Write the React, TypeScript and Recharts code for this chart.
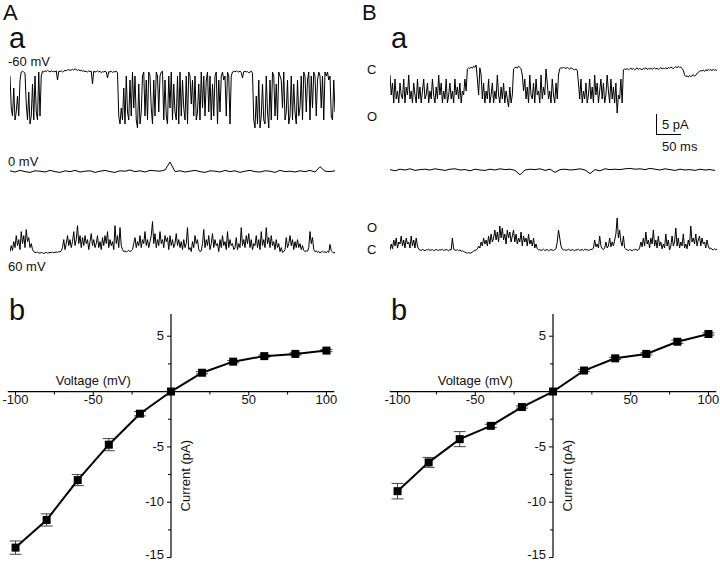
import React from 'react'
import {
  LineChart, ComposedChart, Line, XAxis, YAxis, ErrorBar,
  ReferenceLine, ReferenceDot,
} from 'recharts'

// single-channel traces, pA relative to closed level
const traceAneg60 = [
  -1, -9, -11, -4, -12, -10, -6, -11, -2, 0,
  0.2, 0, -0.3, -8, -12, -5, -13, -11, -3, -12,
  -1, -10, -12, 0, -11, -1, 0.2, 0, 0.3, 0.1,
  0.4, 0.2, 0, 0.3, 0.1, 0.2, 0, 0.3, -2, 0.2,
  0.1, 0.3, 0, 0.2, 0.4, 0.3, 0.5, 0.6, 0.4, 0.5,
  0.7, 0.5, 0.8, 0.6, 0.4, 0.6, 0.3, 0.4, 0.2, 0.3,
  0.1, 0.2, 0, 0.3, 0.1, 0.2, -3, 0.2, 0, 0.1,
  0.3, 0, 0.2, -0.2, 0.1, 0, 0.2, 0, -1.5, 0.1,
  0, 0.2, -0.1, 0.1, 0, 0.2, -0.2, -11, -13, -9,
  -12, -4, -13, -1, -10, -12, -2, -11, 0, -9,
  -1, -12, -14, -3, -13, -10, -1, 0, -11, -2,
  -12, 0, -1, -9, -13, -2, -11, 0, -1, -10,
  -1, 0, 0.2, -12, -2, -11, -13, -1, -9, 0,
  -12, -3, -10, -12, -1, -13, 0, -11, -2, -9,
  -12, -1, -13, 0, -1, -8, -2, -11, -1, -12,
  -10, -3, -12, 0, -9, -1, -11, -2, 0, -10,
  -1, -12, -3, -11, -1, 0, -13, -2, -10, -1,
  0, -2, -1, -11, 0, -1, -13, -1, 0, 0.2,
  0, 0.3, 0.1, 0, 0.2, -0.1, -1.5, 0.1, 0.2, 0,
  0.1, -0.2, 0, 0.2, -0.3, -12, -14, -6, -13, -2,
  -14, -11, -3, -12, -13, -1, -10, -14, -2, -12,
  0, -1, -11, -3, -12, 0, -1, -2, -9, 0,
  -12, -10, -2, -13, -11, -1, -12, -3, -10, -13,
  -2, -11, -9, -1, -12, 0, -1, -10, -2, 0,
  -12, -1, -9, 0, -1, -11, -2, 0, -1, -9,
  -1, -12, 0, -1, 0, -2, -1, -11, -12, -2,
  -10,
]
const traceA0 = [
  0.2, -0.1, 0.3, 0, -0.2, 0.2, 0.1, -0.1, 0.3, 0,
  -0.2, 0.2, 0, 0.3, -0.1, 0.1, 0.2, -0.2, 0.1, 0.3,
  0, -0.2, 0.2, 0.1, 0.4, 0, 0.2, -0.1, 0.3, 0.2,
  0.1, 0.4, 2.4, 0, 0.2, -0.1, 0.1, 0.3, 0, -0.2,
  0.2, 0.1, -0.1, 0.3, 0, 0.2, -0.2, 0.1, 0.3, 0,
  -0.1, 0.2, 0.1, -0.2, 0.3, 0, 0.1, -0.1, 0.2, 0,
  0.3, -0.1, 1.2, 0.1, 0, 0.2,
]
const traceA60 = [
  0, 1.5, 0.3, 2.5, 1, 4, 1.5, 3, 0.5, 5,
  2, 4, 1, 5.5, 2.5, 3.5, 1, 2, 0.5, 0,
  -0.2, -0.3, -0.1, -0.3, -0.4, -0.2, -0.3, -0.5, -0.3, -0.2,
  -0.4, -0.3, -0.2, -0.3, -0.1, -0.3, -0.2, -0.1, -0.2, 0,
  -0.1, 0.2, 1, 3, 0.5, 2, 4, 1.5, 3, 1,
  2.5, 5, 1.5, 3, 6.5, 2, 4, 1, 3.5, 1.5,
  4, 2, 3, 0.5, 2.5, 4.5, 1.5, 3, 1, 2,
  4, 1, 2.5, 0.5, 3.5, 1.5, 4, 2, 5, 1,
  3, 1.5, 2.5, 0.5, 6.5, 2, 4, 1, 6, 1.5,
  0.5, 0, 0.2, -0.1, 0.1, 0.3, 0, 0.2, 0.5, 2,
  3.5, 1, 2.5, 1.5, 4, 1, 3, 2, 5, 1.5,
  3, 1, 2.5, 4, 7.5, 2, 4.5, 1, 3, 1.5,
  5, 2, 3, 1, 4, 2.5, 3.5, 0.5, 4, 1.5,
  3, 1, 2, 4.5, 1.5, 3, 1, 2.5, 0.5, 3,
  1, 2, 6, 0.5, 1, 0, 2.5, 1, 4, 2,
  3, 0.5, 0, 0.2, 2, 5.5, 1, 3, 1.5, 4,
  0.5, 2, 4.5, 1, 3, 1.5, 2, 0, 3, 1,
  4, 1.5, 2.5, 0.5, 5, 1, 3, 1.5, 2, 0.5,
  1, 3.5, 0.5, 2, 1, 6, 1.5, 3, 1, 4,
  2, 4.5, 1, 3, 0.5, 2, 1.5, 4, 1, 3,
  0.5, 5, 1.5, 3, 1, 6, 2, 3.5, 1, 4,
  1.5, 2.5, 0.5, 3, 1, 2, 0, 1, -0.2, 0,
  0.5, 3.5, 1, 2, 4, 1.5, 3, 0.5, 2.5, 1,
  3, 1, 2, 0.5, 1.5, 0.3, 0, 0.2, 0.1, 1,
  5, 2, 3.5, 0.5, 0, 0.2, -0.2, 0, -0.3, -0.1,
  0.1, -0.2, 0, -0.3, 0.1, -0.2, 1.8, 0.2, -0.1, -0.3,
  -0.2,
]
const traceBtop = [
  -1, -6, -3, -8, -2, -7, -5, -8, -3, -6,
  -7, -2, -8, -4, -6, -1, -7, -5, -8, -3,
  -6, -8, -2, -7, -4, -8, -5, -2, -7, -6,
  -3, -8, -5, -7, -2, -6, -8, -4, -7, -1,
  -6, -3, -8, -5, -7, -2, -8, -6, -3, -7,
  -5, -8, -2, -6, -4, -7, -3, -8, -5, -6,
  -2, -5, 0.5, 0.8, 0.6, 1, 0.7, 1.2, 0.9, 1.5,
  -2, -6, 0.8, -1, -7, -3, -8, -5, -7, -2,
  -8, -6, -3, -8, -5, -7, -1, -6, -8, -4,
  -7, -3, -8, -5, -7, -9, -4, -8, -6, 0.5,
  0.8, 1, 0.7, 1.2, 0.9, 0.6, -1, -5, -2, -7,
  -4, -8, -1, -6, -7, -3, -8, -2, -6, -5,
  -8, -1, -7, -4, -6, 0.5, -3, -7, -5, -8,
  -2, -6, -8, -3, -7, -1, 0.6, 0.8, 0.7, 0.9,
  0.8, 0.6, 0.9, 0.7, 0.5, 0.8, 0.6, 0.4, 0.3, 0.5,
  0.2, -3, -7, -2, -8, -5, -7, -3, -8, -6,
  -2, -7, -4, -8, -1, -6, -3, -8, -5, -2,
  -7, -3, -8, -6, -1, -5, -8, -2, -7, -4,
  -8, -3, -10.5, -6, -7, -2, -8, 0.3, 0.5, 0.4,
  0.6, 0.3, 0.5, 0.7, 0.4, 0.6, 0.3, 0.5, 0.8, 0.4,
  0.6, 0.5, 0.3, 0.7, 0.5, 0.8, 0.4, 0.6, 0.5, 0.7,
  0.4, 0.6, 0.8, 0.5, 0.7, 0.4, 0.6, 0.9, 0.5, 0.7,
  0.6, 0.8, 0.5, 0.9, 0.7, 1, 0.8, 0.6, 0.9, 1.1,
  0.8, 1.2, 0.9, 1, 0.6, 0.2, -1, -1.4, -1.2, -1.5,
  -1.1, -1.4, -1.2, -0.9, -1.3, -1, -0.7, -0.3, -0.1, 0.1,
  0, 0.2, -0.1, 0.3, 0.1, 0.4, 0.2, 0.3, 0.1, 0.4,
  0.2, 0.3, 0.1,
]
const traceBmid = [
  0.1, -0.2, 0.2, 0, 0.3, -0.1, 0.1, 0.2, 0, 0.3,
  0.1, -0.1, 0.2, 0.3, 0, 0.1, -0.2, 0.2, 0, -0.1,
  0.2, 0, 0.3, 0.1, 0.2, -0.1, -1.2, 0, 0.2, 0.1,
  0.3, -0.1, 0.2, -0.6, 0.1, 0.2, 0, 0.1, 0.3, 0,
  -0.9, 0.1, -0.2, 0.3, 0.1, 0.2, 0.1, 0.3, 0.4, 0.2,
  0.3, 0.1, 0.4, 0.2, 0, 0.3, 0.1, -0.1, 0.2, 0,
  0.1, -0.1, 0.2, 0, 0.1, -0.1,
]
const traceBbot = [
  0, 1.5, 0.3, 2.5, 1, 3, 0.5, 2, 1.5, 3.5,
  1, 2.5, 0.5, 3, 1.5, 2, 0.5, 3.5, 1, 2.5,
  0.5, 3, 1, 0.2, 0, -0.1, 0.1, 0, -0.2, 0.1,
  0, 0.2, -0.1, 0, 0.1, -0.2, 0, 0.1, 0, -0.1,
  0.1, 0, 0.2, -0.1, 0, 0.1, 0, -0.2, 0.1, 0,
  3, 0.2, 0, -0.1, 0.1, -0.2, 0, -0.3, -0.2, -0.4,
  -0.5, -0.7, -0.8, -0.6, -0.8, -0.7, -0.5, -0.3, -0.1, 0,
  0.3, 1, 0.5, 2, 1, 3, 1.5, 2.5, 1, 3.5,
  1.5, 4, 2, 3, 5, 2.5, 4.5, 2, 6, 3,
  5.5, 2.5, 4, 1.5, 5, 3, 4.5, 2, 3.5, 5,
  2, 4, 1.5, 3, 2, 4.5, 1, 3.5, 2, 3,
  1, 4, 1.5, 2.5, 1, 3, 0.5, 1.5, 0.3, 0,
  0.1, -0.1, 0, 0.2, -0.1, 0, 0.1, -0.2, 0, 0.1,
  0, -0.1, 0.1, 0.3, 2, 5, 3, 1, 0.2, 0,
  0.1, -0.1, 0, 0.2, 0, -0.1, 0.1, 0, -0.2, 0.1,
  0, 0.2, -0.1, 0, 0.1, -0.1, 0.2, 0, 0.1, -0.1,
  0, 0.2, 0.1, 0.5, 2.5, 0.8, 1.5, 0.5, 3.5, 1,
  0.3, 0.1, 0.5, 2, 0.5, 1, 3, 0.8, 2, 1,
  2.5, 4, 8, 3, 5, 2, 1, 3.5, 0.5, 0.2,
  0, -0.1, 0.1, 0, -0.2, 0.1, 0, 0.2, -0.1, 0,
  0.5, 2, 0.8, 3, 1, 4.5, 1.5, 2.5, 0.5, 3,
  1.5, 5, 1, 2.5, 0.5, 3.5, 1, 2, 0.3, 1.5,
  0.5, 4, 1, 2.5, 0, 1, 3.5, 1, 2, 5.5,
  1, 3, 0.5, 2, 1, 4, 0.5, 1.5, 0.3, 2.5,
  1, 6, 2, 3, 1.5, 4, 1, 2.5, 3.5, 1,
  3, 1.5, 2, 0.5, 2.5, 1, 0.3, 0.5, 0.2, 0,
  0.3, 0.1, 0.2,
]

// I-V relations
const voltages = [-100, -80, -60, -40, -20, 0, 20, 40, 60, 80, 100]
const currentA = [-14.1, -11.6, -8.0, -4.8, -2.0, 0, 1.7, 2.7, 3.2, 3.4, 3.7]
const errA = [0.6, 0.55, 0.5, 0.55, 0.2, 0, 0.1, 0.1, 0.1, 0.1, 0.1]
const currentB = [-9.0, -6.4, -4.3, -3.1, -1.4, 0, 1.9, 3.0, 3.4, 4.5, 5.2]
const errB = [0.7, 0.45, 0.68, 0.15, 0.1, 0, 0.1, 0.1, 0.1, 0.15, 0.1]

const xTicks = [-100, -75, -50, -25, 25, 50, 75, 100]
const xTickLabels = [-100, -50, 50, 100]
const yTicks = [5, 2.5, -2.5, -5, -7.5, -10, -12.5, -15]
const yTickLabels = [5, -5, -10, -15]

const IV_W = 342
const IV_H = 259
const IV_X = [-110, 110]
const IV_Y = [-15.4, 8]
const MV_PER_PX = (IV_X[1] - IV_X[0]) / IV_W
const PA_PER_PX = (IV_Y[1] - IV_Y[0]) / IV_H
const FONT = "'Liberation Sans', Arial, sans-serif"
const noMargin = { top: 0, right: 0, bottom: 0, left: 0 }

type TraceProps = {
  values: number[]
  left: number
  top: number
  width: number
  height: number
  domain: [number, number]
}

function Trace({ values, left, top, width, height, domain }: TraceProps) {
  const rows = values.map((v, i) => ({ i, v }))
  return (
    <div style={{ position: 'absolute', left, top }}>
      <LineChart width={width} height={height} data={rows} margin={noMargin}>
        <XAxis type="number" dataKey="i" domain={[0, values.length - 1]} hide />
        <YAxis type="number" domain={domain} hide allowDataOverflow />
        <Line type="linear" dataKey="v" stroke="#000" strokeWidth={1} dot={false}
          isAnimationActive={false} />
      </LineChart>
    </div>
  )
}

const Square = (p: any) => (
  <rect key={`sq-${p.index}`} x={p.cx - 4} y={p.cy - 4} width={8} height={8} fill="#000" />
)

function IVPanel({ left, current, err }: { left: number; current: number[]; err: number[] }) {
  const rows = voltages.map((v, k) => ({ v, i: current[k], err: err[k] }))
  const lbl = { fill: '#111', fontSize: 13 }
  return (
    <div style={{ position: 'absolute', left, top: 303 }}>
      <ComposedChart width={IV_W} height={IV_H} data={rows} margin={noMargin}>
        <XAxis type="number" dataKey="v" domain={IV_X} hide allowDataOverflow />
        <YAxis type="number" domain={IV_Y} hide allowDataOverflow />
        {/* axes crossing at the origin */}
        <ReferenceLine segment={[{ x: -105, y: 0 }, { x: 105, y: 0 }]} stroke="#000"
          strokeWidth={1.2} ifOverflow="visible" />
        <ReferenceLine segment={[{ x: 0, y: -15 }, { x: 0, y: 7 }]} stroke="#000"
          strokeWidth={1.2} ifOverflow="visible" />
        {xTicks.map(t => {
          const len = (xTickLabels.includes(t) ? 4 : 3) * PA_PER_PX
          return <ReferenceLine key={`xt${t}`} segment={[{ x: t, y: 0 }, { x: t, y: -len }]}
            stroke="#000" strokeWidth={1} ifOverflow="visible" />
        })}
        {yTicks.map(t => {
          const len = (yTickLabels.includes(t) ? 4 : 3) * MV_PER_PX
          return <ReferenceLine key={`yt${t}`} segment={[{ x: -len, y: t }, { x: 0, y: t }]}
            stroke="#000" strokeWidth={1} ifOverflow="visible" />
        })}
        {xTickLabels.map(t => (
          <ReferenceDot key={`xl${t}`} x={t} y={0} r={0} stroke="none" fill="none" ifOverflow="visible"
            label={{ ...lbl, value: String(t), position: 'bottom', offset: 3 }} />
        ))}
        {yTickLabels.map(t => (
          // the lowest label sits at the page edge, lift it a little
          <ReferenceDot key={`yl${t}`} x={0} y={t} r={0} stroke="none" fill="none" ifOverflow="visible"
            label={{ ...lbl, value: String(t), position: 'left', offset: 7, dy: t === -15 ? -3 : -0.5 }} />
        ))}
        <ReferenceDot x={-50} y={1} r={0} stroke="none" fill="none" ifOverflow="visible"
          label={{ ...lbl, value: 'Voltage (mV)', position: 'center' }} />
        <ReferenceDot x={9} y={-7.6} r={0} stroke="none" fill="none" ifOverflow="visible"
          label={{ ...lbl, value: 'Current (pA)', position: 'center', angle: -90 }} />
        <Line type="linear" dataKey="i" stroke="#000" strokeWidth={2} dot={Square}
          isAnimationActive={false}>
          <ErrorBar dataKey="err" width={6} stroke="#444" strokeWidth={1} direction="y" />
        </Line>
      </ComposedChart>
    </div>
  )
}

const txt = (left: number, top: number, size: number, s: string) => (
  <div style={{ position: 'absolute', left, top, fontSize: size, lineHeight: 1.15, color: '#111', whiteSpace: 'nowrap' }}>{s}</div>
)

export default function App() {
  return (
    <div style={{ position: 'absolute', left: 0, top: 0, width: 720, height: 564, overflow: 'hidden',
      background: '#fff', fontFamily: FONT }}>
      {txt(3, 0, 22, 'A')}
      {txt(362, 0, 22, 'B')}
      {txt(9, 22, 29, 'a')}
      {txt(391, 22, 29, 'a')}
      {txt(9, 294, 29, 'b')}
      {txt(391, 294, 29, 'b')}

      {txt(8, 55, 13, '-60 mV')}
      {txt(8, 155, 13, '0 mV')}
      {txt(8, 260, 13, '60 mV')}
      {txt(367, 63, 13, 'C')}
      {txt(367, 110, 13, 'O')}
      {txt(367, 221, 13, 'O')}
      {txt(367, 243, 13, 'C')}
      {txt(662, 118, 13, '5 pA')}
      {txt(662, 140, 13, '50 ms')}
      <div style={{ position: 'absolute', left: 656, top: 114, width: 24, height: 20,
        borderLeft: '1.5px solid #000', borderBottom: '1.5px solid #000' }} />

      <Trace values={traceAneg60} left={10} top={58} width={325} height={72} domain={[-14.5, 3.5]} />
      <Trace values={traceA0} left={10} top={158} width={325} height={24} domain={[-2.6, 3.4]} />
      <Trace values={traceA60} left={10} top={218} width={325} height={40} domain={[-1.6, 8.4]} />
      <Trace values={traceBtop} left={390} top={60} width={327} height={60} domain={[-12.25, 2.75]} />
      <Trace values={traceBmid} left={390} top={158} width={325} height={24} domain={[-3, 3]} />
      <Trace values={traceBbot} left={390} top={215} width={327} height={45} domain={[-2.5, 8.75]} />

      <IVPanel left={0} current={currentA} err={errA} />
      <IVPanel left={382} current={currentB} err={errB} />
    </div>
  )
}
